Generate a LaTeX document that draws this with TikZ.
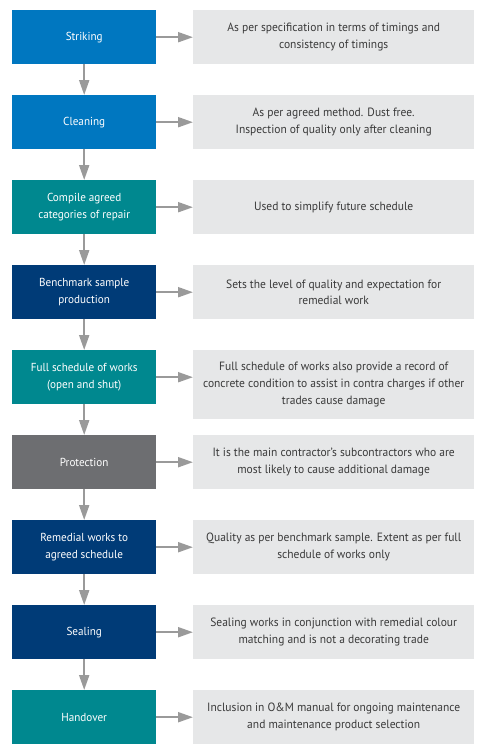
\documentclass[tikz,border=0pt]{standalone}
\usepackage{fontspec}
\setmainfont{PT Sans}[FakeStretch=0.96]
\usetikzlibrary{arrows.meta}
\definecolor{cblue}{HTML}{0077C0}
\definecolor{cteal}{HTML}{00888F}
\definecolor{cnavy}{HTML}{003B77}
\definecolor{cgrey}{HTML}{6D6E71}
\definecolor{notebg}{HTML}{E6E7E8}
\definecolor{notetxt}{HTML}{3A3A3A}
\definecolor{arrowc}{HTML}{9A9A9A}
\tikzset{
  stage/.style={draw=none, minimum width=144pt, minimum height=54pt, inner sep=0pt,
    text=white, font=\fontsize{11.6}{16.7}\selectfont, align=center, anchor=north west},
  note/.style={fill=notebg, draw=none, minimum width=281pt, minimum height=54pt, inner sep=0pt,
    text=notetxt, font=\fontsize{12}{16.7}\selectfont, align=center, anchor=north west},
  flow/.style={draw=arrowc, line width=2pt, -{Triangle[length=15pt,width=10pt]}, shorten >=0pt}
}
\begin{document}
\begin{tikzpicture}[x=1pt,y=-1pt]
\useasboundingbox (0,0) rectangle (481,744);
% left column: process stages
\node[stage, fill=cblue] (s1) at (12,10) {Striking};
\node[stage, fill=cblue] (s2) at (12,95) {Cleaning};
\node[stage, fill=cteal] (s3) at (12,180) {Compile agreed\\categories of repair};
\node[stage, fill=cnavy] (s4) at (12,265) {Benchmark sample\\production};
\node[stage, fill=cteal] (s5) at (12,350) {Full schedule of works\\(open and shut)};
\node[stage, fill=cgrey] (s6) at (12,435) {Protection};
\node[stage, fill=cnavy] (s7) at (12,520) {Remedial works to\\agreed schedule};
\node[stage, fill=cnavy] (s8) at (12,605) {Sealing};
\node[stage, fill=cteal] (s9) at (12,690) {Handover};
% right column: notes
\node[note] (n1) at (193,10) {As per specification in terms of timings and\\consistency of timings};
\node[note] (n2) at (193,95) {As per agreed method. Dust free.\\Inspection of quality only after cleaning};
\node[note] (n3) at (193,180) {Used to simplify future schedule};
\node[note] (n4) at (193,265) {Sets the level of quality and expectation for\\remedial work};
\node[note, minimum height=69pt] (n5) at (193,350) {Full schedule of works also provide a record of\\concrete condition to assist in contra charges if other\\trades cause damage};
\node[note] (n6) at (193,435) {It is the main contractor’s subcontractors who are\\most likely to cause additional damage};
\node[note] (n7) at (193,520) {Quality as per benchmark sample. Extent as per full\\schedule of works only};
\node[note] (n8) at (193,605) {Sealing works in conjunction with remedial colour\\matching and is not a decorating trade};
\node[note] (n9) at (193,690) {Inclusion in O\&M manual for ongoing maintenance\\and maintenance product selection};
% connectors
\foreach \a/\b in {s1/s2,s2/s3,s3/s4,s4/s5,s5/s6,s6/s7,s7/s8,s8/s9}
  \draw[flow] (\a.south) -- (\b.north);
\foreach \i in {1,...,9}
  \draw[flow] (s\i.east) -- (s\i.east -| n\i.west);
\end{tikzpicture}
\end{document}
